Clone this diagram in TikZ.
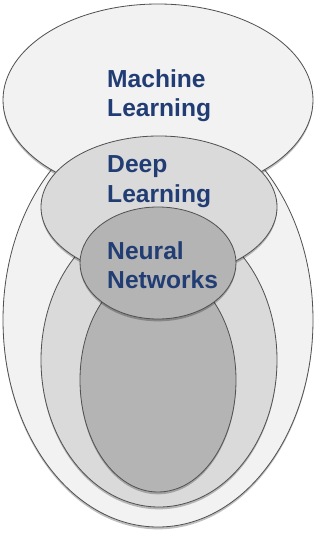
\documentclass[tikz,border=0pt]{standalone}
\usepackage{fontspec}
\setmainfont{Liberation Sans}
\usetikzlibrary{positioning,shapes.geometric,shadows}

\definecolor{mlgray}{HTML}{F2F2F2}
\definecolor{dlgray}{HTML}{DADADA}
\definecolor{nngray}{HTML}{B4B4B4}
\definecolor{rimgray}{HTML}{525252}
\definecolor{navy}{RGB}{33,61,115}

\newcommand{\pxu}{0.03cm}

\tikzset{
	blob/.style={ellipse, draw=rimgray, line width=0.7pt,
		inner sep=0pt, outer sep=0pt,
		drop shadow={shadow xshift=0pt, shadow yshift=-2pt,
			opacity=0.25, fill=black}},
	tag/.style={anchor=north west, inner sep=0pt, align=left,
		text=navy, font=\bfseries\fontsize{21}{25.5}\selectfont}
}

\begin{document}
\begin{tikzpicture}[x=\pxu, y=-\pxu]
	\useasboundingbox (0,0) rectangle (323,540);

	% lower bodies first, caps on top
	\node[blob, fill=mlgray, minimum width=310*\pxu, minimum height=414*\pxu]
		(MLbody) at (158,320) {};
	\node[blob, fill=mlgray, minimum width=310*\pxu, minimum height=192*\pxu]
		(ML) at (158,100) {};
	\node[blob, fill=dlgray, minimum width=236*\pxu, minimum height=294*\pxu]
		(DLbody) at (159,360) {};
	\node[blob, fill=dlgray, minimum width=236*\pxu, minimum height=142*\pxu]
		(DL) at (159,207) {};
	\node[blob, fill=nngray, minimum width=156*\pxu, minimum height=224*\pxu]
		(NNbody) at (158,380) {};
	\node[blob, fill=nngray, minimum width=156*\pxu, minimum height=112*\pxu]
		(NN) at (158,263) {};

	% labels
	\node[tag] (MLtext) at (107,69) {Machine\\Learning};
	\node[tag] (DLtext) at (107,155) {Deep\\Learning};
	\node[tag] (NNtext) at (107,241) {Neural\\Networks};
\end{tikzpicture}
\end{document}
